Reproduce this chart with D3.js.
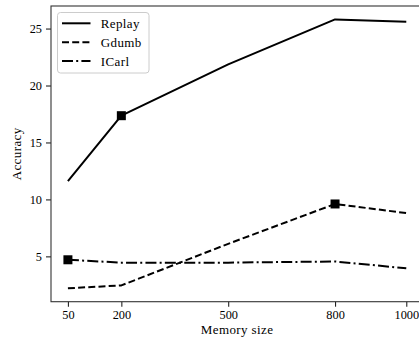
<!DOCTYPE html>
<html>
<head>
<meta charset="utf-8">
<script src="https://cdn.jsdelivr.net/npm/d3@7/dist/d3.min.js"></script>
<style>
  html, body { margin: 0; padding: 0; background: #fff; }
  svg { display: block; }
  text { font-family: "Liberation Serif", "DejaVu Serif", serif; fill: #000; letter-spacing: 0.4px; }
  .tick text { letter-spacing: 0; }
</style>
</head>
<body>
<svg id="chart" width="419" height="341"></svg>
<script>
const memorySizes = [50, 200, 500, 800, 1000];
const replay = [11.6, 17.35, 21.85, 25.8, 25.6];
const gdumb = [2.2, 2.45, 6.1, 9.6, 8.8];
const icarl = [4.7, 4.45, 4.45, 4.55, 3.95];
const seriesNames = ["Replay", "Gdumb", "ICarl"];
const markerIndex = [1, 3, 0];
const xTicks = [50, 200, 500, 800, 1000];
const yTicks = [5, 10, 15, 20, 25];

(function () {
const seriesValues = [replay, gdumb, icarl];
const dashes = ["none", "7,3.2", "11,3.2,2,3.2"];

const svg = d3.select("#chart");
const mLeft = 51, mRight = 423.2, mTop = 6, mBottom = 301.7;

const x = d3.scaleLinear().domain([2.5, 1047.5]).range([mLeft, mRight]);
const y = d3.scaleLinear().domain([1.02, 26.98]).range([mBottom, mTop]);

const fontSize = 13;
const tickFont = 12.3;

// Lines
const line = d3.line().x((d, i) => x(memorySizes[i])).y(d => y(d));
seriesValues.forEach((vals, s) => {
  svg.append("path")
    .datum(vals)
    .attr("d", line)
    .attr("fill", "none")
    .attr("stroke", "#000")
    .attr("stroke-width", 2)
    .attr("stroke-dasharray", dashes[s])
    .attr("stroke-linejoin", "round");
  const mi = markerIndex[s];
  const ms = 9;
  svg.append("rect")
    .attr("x", x(memorySizes[mi]) - ms / 2)
    .attr("y", y(vals[mi]) - ms / 2)
    .attr("width", ms).attr("height", ms)
    .attr("fill", "#000");
});

// Axes
const xAxis = d3.axisBottom(x).tickValues(xTicks).tickSize(5).tickPadding(4).tickFormat(d3.format("d"));
const yAxis = d3.axisLeft(y).tickValues(yTicks).tickSize(5).tickPadding(4).tickFormat(d3.format("d"));

const gx = svg.append("g").attr("transform", `translate(0,${mBottom})`).call(xAxis);
const gy = svg.append("g").attr("transform", `translate(${mLeft},0)`).call(yAxis);
[gx, gy].forEach(g => {
  g.attr("font-family", null);
  g.select(".domain").remove();
  g.selectAll(".tick line").attr("stroke", "#222").attr("stroke-width", 1.1);
  g.selectAll(".tick text").attr("font-size", tickFont);
});

// Spines
const spine = svg.append("g").attr("fill", "none").attr("stroke", "#333").attr("stroke-width", 1.1);
spine.append("rect").attr("x", mLeft).attr("y", mTop).attr("width", mRight - mLeft).attr("height", mBottom - mTop);

// Axis labels
svg.append("text")
  .attr("x", (mLeft + mRight) / 2).attr("y", 334)
  .attr("text-anchor", "middle").attr("font-size", fontSize)
  .text("Memory size");
svg.append("text")
  .attr("transform", `translate(20.5,${(mTop + mBottom) / 2}) rotate(-90)`)
  .attr("text-anchor", "middle").attr("font-size", fontSize)
  .text("Accuracy");

// Legend
const lg = svg.append("g");
lg.append("rect")
  .attr("x", 57.5).attr("y", 12.5).attr("width", 91.5).attr("height", 60.5)
  .attr("rx", 3).attr("fill", "#fff").attr("fill-opacity", 0.8)
  .attr("stroke", "#ccc").attr("stroke-width", 1);
seriesNames.forEach((name, s) => {
  const ry = 23.3 + s * 18.9;
  lg.append("line")
    .attr("x1", 62).attr("x2", 90.5).attr("y1", ry).attr("y2", ry)
    .attr("stroke", "#000").attr("stroke-width", 2)
    .attr("stroke-dasharray", dashes[s]);
  lg.append("text")
    .attr("x", 100.7).attr("y", ry + 4.5)
    .attr("font-size", fontSize)
    .text(name);
});
})();
</script>
</body>
</html>
